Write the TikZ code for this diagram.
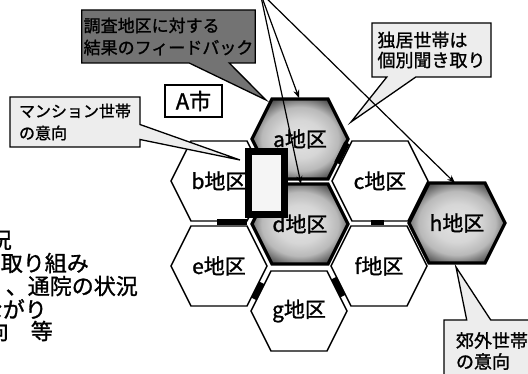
\documentclass[tikz,border=0pt]{standalone}
\usepackage{fontspec}
\newfontfamily\jp[FakeBold=1.2]{Noto Sans CJK JP}
\usetikzlibrary{calc,shapes.callouts,arrows.meta}
\pgfdeclareradialshading{hexshade}{\pgfpoint{0bp}{0bp}}{color(0bp)=(gray!22); color(12bp)=(gray!32); color(20bp)=(gray!55); color(28bp)=(black!70); color(50bp)=(black!90)}
\tikzset{
  hexpath/.style={insert path={($(#1)+(-48,0)$) -- ($(#1)+(-28,-40)$) -- ($(#1)+(28,-40)$) -- ($(#1)+(48,0)$) -- ($(#1)+(28,40)$) -- ($(#1)+(-28,40)$) -- cycle}},
  plainhex/.style={draw=black, line width=1.4pt, fill=white},
  darkhex/.style={draw=black, line width=3.2pt, shading=hexshade},
  lbl/.style={font=\jp\fontsize{21}{23}\selectfont, inner sep=0pt},
  lefttxt/.style={font=\jp\fontsize{22}{23}\selectfont, inner sep=0pt, anchor=east},
  bar/.style={line width=6pt, draw=black},
  call/.style={rectangle callout, draw=black, line width=1.3pt, fill=gray!14, align=left, inner sep=2pt},
  arr/.style={draw=black, line width=1.2pt, -{Stealth[length=8pt,width=6pt]}}
}
\begin{document}
\begin{tikzpicture}[x=1pt,y=-1pt]
\useasboundingbox (0,0) rectangle (528,374);
\clip (0,0) rectangle (528,374);
\fill[white] (0,0) rectangle (528,374);
% hex centres
\coordinate (ca) at (300,139);
\coordinate (cb) at (219,181);
\coordinate (cc) at (380,181);
\coordinate (cd) at (300,224);
\coordinate (ce) at (219,266);
\coordinate (cf) at (379,266);
\coordinate (cg) at (299,311);
\coordinate (ch) at (457,223);
% hexagons
\path[plainhex, hexpath=cb];
\path[plainhex, hexpath=cc];
\path[plainhex, hexpath=ce];
\path[plainhex, hexpath=cf];
\path[plainhex, hexpath=cg];
\shadedraw[darkhex, hexpath=ca];
\shadedraw[darkhex, hexpath=cd];
\shadedraw[darkhex, hexpath=ch];
% dark links between districts
\draw[bar] (217,222.5) -- (247,222.5);
\draw[bar, line width=5pt] (371,222.5) -- (384,222.5);
\draw[bar] (347,143) -- (337,163);
\draw[bar] (262,283) -- (254,299);
\draw[bar] (334,278) -- (343,296);
% apartment block
\draw[line width=7pt, fill=gray!8] (248.5,151.5) rectangle (284.5,214.5);
% district labels
\node[lbl] (a) at (ca) {a地区};
\node[lbl] (b) at (cb) {b地区};
\node[lbl] (c) at (cc) {c地区};
\node[lbl] (d) at (cd) {d地区};
\node[lbl] (e) at (ce) {e地区};
\node[lbl] (f) at (cf) {f地区};
\node[lbl] (g) at (cg) {g地区};
\node[lbl] (h) at (ch) {h地区};
% city label
\node[draw=black, line width=1.5pt, minimum width=57pt, minimum height=32pt, inner sep=0pt, font=\jp\fontsize{22}{24}\selectfont] (city) at (193.5,101) {A市};
% callout tips
\coordinate (tfb) at (266,100);
\coordinate (tm) at (240,160);
\coordinate (tk) at (351,122);
\coordinate (tg) at (456,267);
% callouts
\node[call, fill=black!55, minimum width=173pt, minimum height=53pt, callout absolute pointer={(tfb)}, callout pointer width=40pt, font=\jp\fontsize{17}{22}\selectfont] (fb) at (168.5,36.5) {調査地区に対する\\結果のフィードバック};
\node[call, minimum width=130pt, minimum height=50pt, callout absolute pointer={(tm)}, callout pointer width=15pt, font=\jp\fontsize{16}{22}\selectfont] (ms) at (75,122) {マンション世帯\\の意向};
\node[call, minimum width=119pt, minimum height=54pt, callout absolute pointer={(tk)}, callout pointer width=29pt, font=\jp\fontsize{18}{20}\selectfont] (dk) at (431.5,50) {独居世帯は\\個別聞き取り};
\node[call, minimum width=96pt, minimum height=62pt, callout absolute pointer={(tg)}, callout pointer width=24pt, font=\jp\fontsize{18}{21}\selectfont] (kg) at (492,351) {郊外世帯\\の意向};
% arrows from above
\coordinate (src) at (260,-8);
\coordinate (ta) at (299,98);
\coordinate (td) at (301,184);
\coordinate (th) at (455,183);
\draw[arr] (src) -- (ta);
\draw[arr] (src) -- (td);
\draw[arr] (src) -- (th);
% cut-off list text on the left
\node[lefttxt] (l1) at (12,240) {況};
\node[lefttxt] (l2) at (89,263) {取り組み};
\node[lefttxt] (l3) at (138,286) {、通院の状況};
\node[lefttxt] (l4) at (47,309) {ながり};
\node[lefttxt] (l5) at (53,331) {向　等};
\end{tikzpicture}
\end{document}
